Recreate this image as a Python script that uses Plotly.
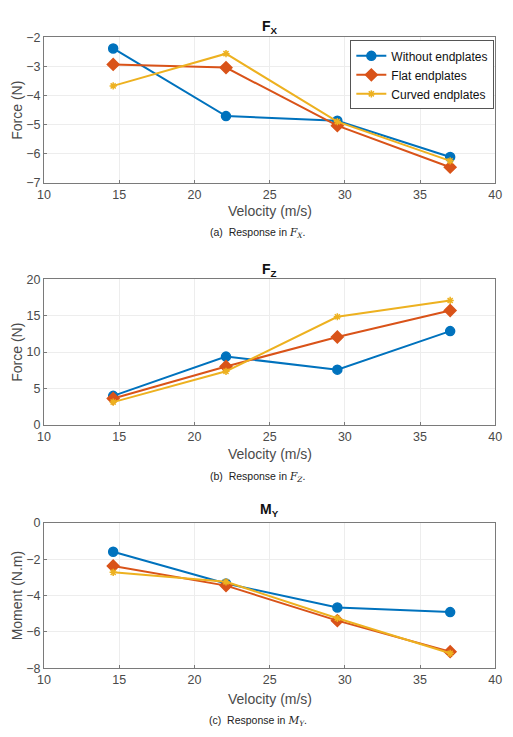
import plotly.graph_objects as go

velocity = [14.6, 22.1, 29.5, 37.0]
series_names = ["Without endplates", "Flat endplates", "Curved endplates"]

fx_without = [-2.38, -4.71, -4.87, -6.12]
fx_flat = [-2.93, -3.04, -5.04, -6.47]
fx_curved = [-3.67, -2.56, -4.90, -6.25]

fz_without = [3.96, 9.37, 7.57, 12.88]
fz_flat = [3.6, 8.0, 12.07, 15.72]
fz_curved = [3.1, 7.34, 14.86, 17.1]

my_without = [-1.58, -3.33, -4.66, -4.91]
my_flat = [-2.37, -3.45, -5.38, -7.09]
my_curved = [-2.72, -3.24, -5.25, -7.18]

colors = ["#0072BD", "#D95319", "#EDB120"]
symbols = ["circle", "diamond", "asterisk-open"]
msizes = [9, 9, 6]

W, H = 513, 737
def py(p):
    return 1 - p / H

serif = "font-family:'DejaVu Serif','Liberation Serif',serif"
panels = [
    dict(data=[fx_without, fx_flat, fx_curved], top=31, bot=179, yr=[-7, -2], dt=1,
         title="<b>F<sub>X</sub></b>", ty=20, ylab="Force (N)",
         cap="(a)  Response in <span style=\"%s\"><i>F<sub>X</sub></i></span>." % serif, cy=230, xly=208),
    dict(data=[fz_without, fz_flat, fz_curved], top=277.7, bot=425.7, yr=[0, 20], dt=5,
         title="<b>F<sub>Z</sub></b>", ty=268, ylab="Force (N)",
         cap="(b)  Response in <span style=\"%s\"><i>F<sub>Z</sub></i></span>." % serif, cy=479, xly=456),
    dict(data=[my_without, my_flat, my_curved], top=526, bot=674, yr=[-8, 0], dt=2,
         title="<b>M<sub>Y</sub></b>", ty=513, ylab="Moment (N.m)",
         cap="(c)  Response in <span style=\"%s\"><i>M<sub>Y</sub></i></span>." % serif, cy=728, xly=705),
]

fig = go.Figure()
annotations = []
font = "Liberation Sans, Arial, sans-serif"
tickc = "#4a4a4a"
axc = "#7a7a7a"
for i, p in enumerate(panels):
    ax = "" if i == 0 else str(i + 1)
    for j in range(3):
        fig.add_trace(go.Scatter(
            x=velocity, y=p["data"][j], mode="lines+markers", name=series_names[j],
            line=dict(color=colors[j], width=2),
            marker=dict(symbol=symbols[j], size=msizes[j], color=colors[j],
                        line=dict(color=colors[j], width=1.5)),
            showlegend=(i == 0), xaxis="x" + ax, yaxis="y" + ax))
    fig.layout["xaxis" + ax] = dict(
        domain=[38 / W, 502 / W], range=[10, 40], dtick=5, anchor="y" + ax,
        showline=True, linecolor=axc, linewidth=1, mirror=True,
        showgrid=True, gridcolor="#EDEDED", zeroline=False, ticks="inside", ticklen=3,
        tickcolor=axc, tickfont=dict(family=font, size=12.5, color=tickc))
    fig.layout["yaxis" + ax] = dict(
        domain=[py(p["bot"]), py(p["top"])], range=p["yr"], dtick=p["dt"], anchor="x" + ax,
        showline=True, linecolor=axc, linewidth=1, mirror=True,
        showgrid=True, gridcolor="#EDEDED", zeroline=False, ticks="inside", ticklen=3,
        tickcolor=axc, tickfont=dict(family=font, size=12.5, color=tickc))
    annotations.append(dict(text=p["title"], x=270 / W, y=py(p["ty"]), xref="paper", yref="paper",
                            showarrow=False, xanchor="center", yanchor="middle",
                            font=dict(family=font, size=14, color="#111111")))
    annotations.append(dict(text="Velocity (m/s)", x=270 / W, y=py(p["xly"]), xref="paper", yref="paper",
                            showarrow=False, xanchor="center", yanchor="middle",
                            font=dict(family=font, size=14, color=tickc)))
    annotations.append(dict(text=p["ylab"], x=10 / W, y=py((p["top"] + p["bot"]) / 2), xref="paper",
                            yref="paper", showarrow=False, textangle=-90, xanchor="center",
                            yanchor="middle", font=dict(family=font, size=14, color=tickc)))
    annotations.append(dict(text=p["cap"], x=258 / W, y=py(p["cy"]), xref="paper", yref="paper",
                            showarrow=False, xanchor="center", yanchor="middle",
                            font=dict(family=font, size=10.5, color="#222222")))

fig.update_layout(
    width=W, height=H, margin=dict(l=0, r=0, t=0, b=0),
    paper_bgcolor="white", plot_bgcolor="white",
    annotations=annotations,
    legend=dict(x=501 / W, y=py(34), xanchor="right", yanchor="top",
                bgcolor="white", bordercolor="#555555", borderwidth=1,
                font=dict(family=font, size=12, color="#111111"),
                itemwidth=30, tracegroupgap=0),
)

fig.write_html("out.html")
